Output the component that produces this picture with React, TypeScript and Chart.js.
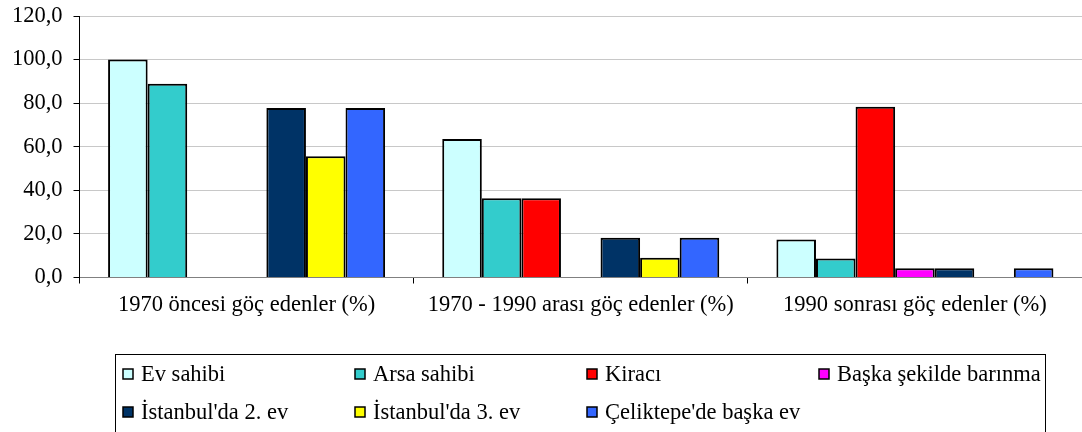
import React, { useEffect, useRef } from 'react';
import { Chart, registerables } from 'chart.js';

Chart.register(...registerables);

const categories = [
  '1970 öncesi göç edenler (%)',
  '1970 - 1990 arası göç edenler (%)',
  '1990 sonrası göç edenler (%)',
];

const seriesNames = [
  'Ev sahibi',
  'Arsa sahibi',
  'Kiracı',
  'Başka şekilde barınma',
  "İstanbul'da 2. ev",
  "İstanbul'da 3. ev",
  "Çeliktepe'de başka ev",
];

const evSahibi = [100, 63.6, 17.4];
const arsaSahibi = [88.9, 36.4, 8.7];
const kiraci = [0, 36.4, 78.3];
const baskaSekilde = [0, 0, 4.3];
const istanbul2 = [77.8, 18.2, 4.3];
const istanbul3 = [55.6, 9.1, 0];
const celiktepe = [77.8, 18.2, 4.3];

const seriesValues = [evSahibi, arsaSahibi, kiraci, baskaSekilde, istanbul2, istanbul3, celiktepe];
const seriesColors = ['#CCFFFF', '#33CCCC', '#FF0000', '#FF00FF', '#003366', '#FFFF00', '#3366FF'];

const yMin = 0;
const yMax = 120;
const yStep = 20;

const FONT = "'Liberation Serif', 'Times New Roman', serif";
const FONT_SIZE = 22.5;

const boxLegend = {
  id: 'boxLegend',
  afterDraw(chart: any) {
    const ctx = chart.ctx;
    ctx.save();
    ctx.strokeStyle = '#000';
    ctx.lineWidth = 1;
    ctx.strokeRect(115.5, 354.5, 930, 100);
    const cols = [123, 355, 587, 819];
    const rows = [374, 412];
    ctx.font = `${FONT_SIZE}px ${FONT}`;
    ctx.textBaseline = 'middle';
    ctx.textAlign = 'left';
    chart.data.datasets.forEach((ds: any, i: number) => {
      const c = cols[i % 4];
      const r = rows[Math.floor(i / 4)];
      ctx.fillStyle = ds.backgroundColor;
      ctx.fillRect(c, r - 5, 10, 10);
      ctx.lineWidth = 1.5;
      ctx.strokeStyle = '#000';
      ctx.strokeRect(c, r - 5, 10, 10);
      ctx.fillStyle = '#000';
      ctx.fillText(ds.label, c + 18, r + 1);
    });
    ctx.restore();
  },
};

export default function App() {
  const ref = useRef<HTMLCanvasElement>(null);
  useEffect(() => {
    if (!ref.current) return;
    const chart = new Chart(ref.current, {
      type: 'bar',
      data: {
        labels: categories,
        datasets: seriesNames.map((name, i) => ({
          label: name,
          data: seriesValues[i],
          backgroundColor: seriesColors[i],
          borderColor: '#000',
          borderWidth: 2,
          categoryPercentage: 0.829,
          barPercentage: 1,
        })),
      },
      options: {
        responsive: false,
        animation: false,
        layout: { padding: { top: 16, right: 0, left: 0, bottom: 0 } },
        plugins: {
          legend: { display: false },
          tooltip: { enabled: false },
        },
        scales: {
          x: {
            grid: {
              display: true,
              drawOnChartArea: false,
              drawTicks: true,
              tickLength: 6,
              tickColor: '#000',
              offset: true,
            },
            border: { display: true, color: '#808080', width: 1 },
            ticks: {
              color: '#000',
              font: { family: FONT, size: FONT_SIZE },
              padding: 8,
              maxRotation: 0,
              autoSkip: false,
            },
            afterFit: (scale: any) => {
              scale.height = 154.5;
              scale.paddingLeft = 0;
              scale.paddingRight = 0;
            },
          },
          y: {
            min: yMin,
            max: yMax,
            ticks: {
              stepSize: yStep,
              color: '#000',
              font: { family: FONT, size: FONT_SIZE },
              padding: 11,
              callback: (v: any) => Number(v).toFixed(1).replace('.', ','),
            },
            grid: {
              color: '#c8c8c8',
              lineWidth: 1,
              tickLength: 6,
              tickColor: '#000',
            },
            border: { display: true, color: '#000', width: 1 },
            afterFit: (scale: any) => {
              scale.width = 79.5;
              scale.paddingTop = 0;
              scale.paddingBottom = 0;
            },
          },
        },
      },
      plugins: [boxLegend],
    });
    return () => chart.destroy();
  }, []);
  return (
    <div style={{ position: 'absolute', left: 0, top: 0, width: 1082, height: 432, background: '#fff' }}>
      <canvas ref={ref} width={1082} height={432} />
    </div>
  );
}
